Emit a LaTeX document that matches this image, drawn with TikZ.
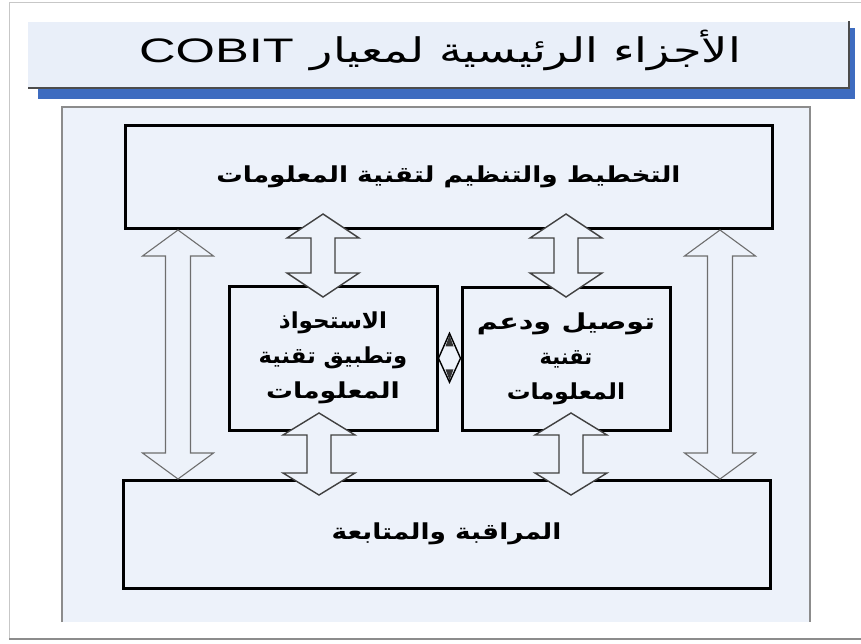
\documentclass[tikz,border=0pt]{standalone}
\usepackage{fontspec}
\setmainfont{Liberation Sans}
\newfontfamily\arabicfont[Script=Arabic]{DejaVu Sans}
\TeXXeTstate=1
\usetikzlibrary{calc}

\definecolor{panelbg}{HTML}{EDF2FA}
\definecolor{bannerbg}{HTML}{E9EFF9}
\definecolor{bannerblue}{HTML}{3E6CC0}
\definecolor{framegray}{HTML}{8C8C8C}
\definecolor{arrowgray}{HTML}{6E6E6E}

% widen a piece of text horizontally by the given factor
\newcommand\hstretch[2]{\scalebox{#1}[1]{#2}}

% hollow vertical double arrow between two named points (upper tip, lower tip)
% #1 style, #2 upper tip, #3 lower tip, #4 shaft half width, #5 head half width, #6 head length
\newcommand\blockarrow[6]{%
  \path[#1] let \p1=(#2), \p2=(#3) in
    (\x1,\y1) -- ({\x1+#5pt},{\y1-#6pt}) -- ({\x1+#4pt},{\y1-#6pt})
    -- ({\x1+#4pt},{\y2+#6pt}) -- ({\x1+#5pt},{\y2+#6pt}) -- (\x1,\y2)
    -- ({\x1-#5pt},{\y2+#6pt}) -- ({\x1-#4pt},{\y2+#6pt})
    -- ({\x1-#4pt},{\y1-#6pt}) -- ({\x1-#5pt},{\y1-#6pt}) -- cycle;}

\tikzset{
  stage/.style={draw=black, line width=3pt, fill=panelbg, inner sep=0pt,
    font=\arabicfont\bfseries\fontsize{22}{35}\selectfont, align=center},
  bigarrow/.style={draw=arrowgray, line width=1.1pt, fill=panelbg, line join=miter},
  smallarrow/.style={draw=black!75, line width=1.4pt, fill=panelbg, line join=miter},
}

\begin{document}
\begin{tikzpicture}[x=1pt,y=-1pt]
\useasboundingbox (0,0) rectangle (861,643);
\fill[white] (0,0) rectangle (861,643);

% outer photo frame
\draw[black!22, line width=1pt] (9,638) -- (9,2) -- (861,2);
\draw[black!45, line width=2pt] (9,639) -- (861,639);

% title banner with blue drop shadow
\fill[bannerblue] (38,28) rectangle (855,99);
\fill[bannerbg] (28,22) rectangle (849,88);
\draw[black!70, line width=1.2pt] (28,88) -- (849,88) -- (849,21);
\node[font=\fontsize{34}{40}\selectfont] (title) at (440,50)
  {\hstretch{1.49}{COBIT}\hspace{17pt}%
   \hstretch{1.36}{\arabicfont\beginR الأجزاء الرئيسية لمعيار\endR}};

% main panel
\fill[panelbg] (62,107) rectangle (810,622);
\draw[framegray, line width=1.5pt] (62,622) -- (62,107) -- (810,107) -- (810,622);

% the four process domains
\node[stage, minimum width=647pt, minimum height=103pt] (plan) at (448.5,176.5)
  {\raisebox{5pt}{\hstretch{1.2}{\beginR التخطيط والتنظيم لتقنية المعلومات\endR}}};
\node[stage, minimum width=647pt, minimum height=108pt] (monitor) at (446.5,534)
  {\raisebox{3pt}{\hstretch{1.2}{\beginR المراقبة والمتابعة\endR}}};
\node[stage, minimum width=208pt, minimum height=144pt] (acquire) at (333,358)
  {\hstretch{1.05}{\beginR الاستحواذ\endR}\\ \hstretch{1.03}{\beginR وتطبيق تقنية\endR}\\
   \hstretch{1.22}{\beginR المعلومات\endR}};
\node[stage, minimum width=208pt, minimum height=143pt] (deliver) at (566,358.5)
  {\hstretch{1.3}{\beginR توصيل\hspace{8pt}ودعم\endR}\\ \hstretch{0.95}{\beginR تقنية\endR}\\
   \hstretch{1.08}{\beginR المعلومات\endR}};

% arrow end points
\coordinate (L1) at (178,230);  \coordinate (L2) at (178,479);
\coordinate (R1) at (720,230);  \coordinate (R2) at (720,479);
\coordinate (pa1) at (323,214); \coordinate (pa2) at (323,297);
\coordinate (pd1) at (566,214); \coordinate (pd2) at (566,297);
\coordinate (am1) at (319,413); \coordinate (am2) at (319,495);
\coordinate (dm1) at (571,413); \coordinate (dm2) at (571,495);

% plan <-> monitor
\blockarrow{bigarrow}{L1}{L2}{12.5}{35.5}{26}
\blockarrow{bigarrow}{R1}{R2}{12.5}{35.5}{26}
% plan <-> acquire / deliver
\blockarrow{smallarrow}{pa1}{pa2}{12}{36}{24}
\blockarrow{smallarrow}{pd1}{pd2}{12}{36}{24}
% acquire / deliver <-> monitor
\blockarrow{smallarrow}{am1}{am2}{12}{36}{22}
\blockarrow{smallarrow}{dm1}{dm2}{12}{36}{22}

% acquire <-> deliver: small diamond double arrow
\coordinate (dmid) at ($(acquire.east)!0.5!(deliver.west)$);
\draw[black, line width=1.4pt, fill=panelbg] ($(dmid)+(0,-25)$) -- ($(dmid)+(11,0)$)
  -- ($(dmid)+(0,24)$) -- ($(dmid)+(-11,0)$) -- cycle;
\fill[black!80] ($(dmid)+(0,-23)$) -- ($(dmid)+(4,-12)$) -- ($(dmid)+(-4,-12)$) -- cycle;
\fill[black!80] ($(dmid)+(0,22)$) -- ($(dmid)+(4,11)$) -- ($(dmid)+(-4,11)$) -- cycle;
\end{tikzpicture}
\end{document}
